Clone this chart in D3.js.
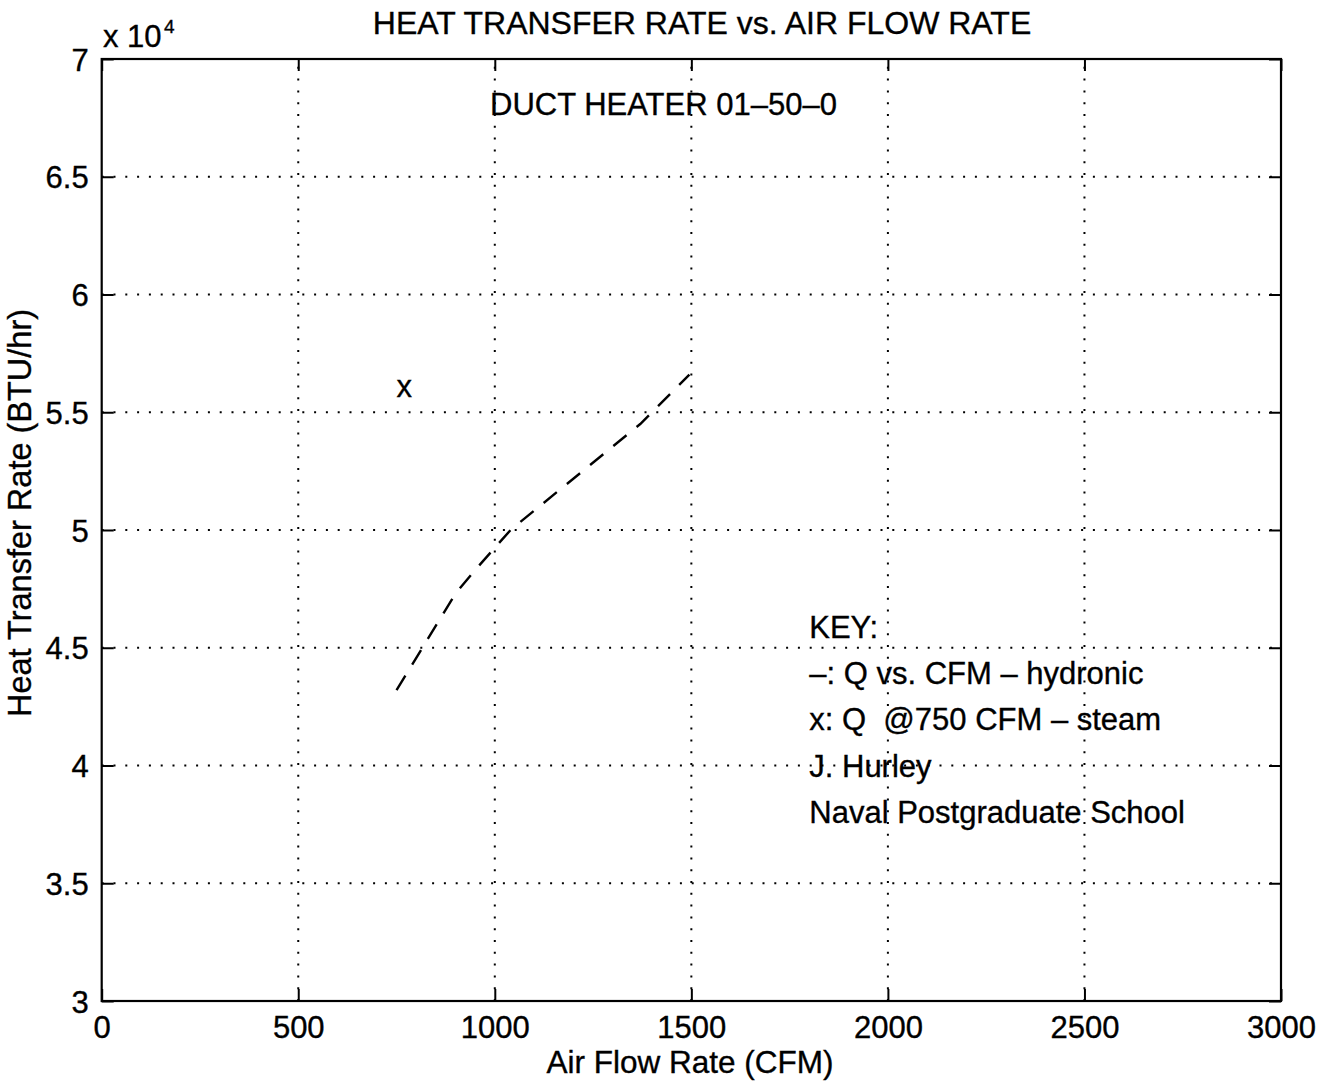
<!DOCTYPE html>
<html><head><meta charset="utf-8">
<script src="https://cdn.jsdelivr.net/npm/d3@7/dist/d3.min.js"></script>
<style>
html,body{margin:0;padding:0;background:#fff;}
text{font-family:"Liberation Sans",Arial,Helvetica,sans-serif;fill:#000;stroke:#000;stroke-width:0.35px;}
</style></head>
<body>
<svg id="chart" width="1328" height="1084"></svg>
<script>
// Data (Q in BTU/hr, flow in CFM)
const hydronicCFM = [750, 900, 950, 1040, 1370, 1495];
const hydronicQ   = [43200, 47300, 48300, 50000, 54500, 56600];
const steamCFM = [750];
const steamQ   = [56000];
const xTicks = [0, 500, 1000, 1500, 2000, 2500, 3000];
const yTicks = [30000, 35000, 40000, 45000, 50000, 55000, 60000, 65000, 70000];
const yTickLabels = ["3", "3.5", "4", "4.5", "5", "5.5", "6", "6.5", "7"];
const keyLines = ["KEY:", "\u2013: Q vs. CFM \u2013 hydronic", "x: Q  @750 CFM \u2013 steam", "J. Hurley", "Naval Postgraduate School"];
const titleText = "HEAT TRANSFER RATE vs. AIR FLOW RATE";
const subtitleText = "DUCT HEATER 01\u201350\u20130";

const svg = d3.select("#chart");
const L = 101.7, R = 1281, T = 59, B = 1001;
const x = d3.scaleLinear().domain([0, 3000]).range([L, R]);
const y = d3.scaleLinear().domain([30000, 70000]).range([B, T]);
const FS = 31;

// Grid
const grid = svg.append("g").attr("stroke", "#000").attr("stroke-width", 2)
  .attr("stroke-dasharray", "2,9.8").attr("stroke-linecap", "butt");
grid.selectAll(".gx").data(xTicks.slice(1, -1)).join("line")
  .attr("x1", d => x(d)).attr("x2", d => x(d)).attr("y1", B).attr("y2", T);
grid.selectAll(".gy").data(yTicks.slice(1, -1)).join("line")
  .attr("x1", L).attr("x2", R).attr("y1", d => y(d)).attr("y2", d => y(d));

// Axes with inward ticks
const tl = 12;
const axB = d3.axisBottom(x).tickValues(xTicks).tickSize(-tl).tickFormat(d3.format("d")).tickPadding(16);
const axT = d3.axisTop(x).tickValues(xTicks).tickSize(-tl).tickFormat("");
const axL = d3.axisLeft(y).tickValues(yTicks).tickSize(-tl).tickFormat((d, i) => yTickLabels[i]).tickPadding(13);
const axR = d3.axisRight(y).tickValues(yTicks).tickSize(-tl).tickFormat("");
function style(g) {
  g.select(".domain").remove();
  g.selectAll("line").attr("stroke", "#000").attr("stroke-width", 2);
  g.selectAll("text").attr("font-size", FS).attr("font-family", "Liberation Sans, Arial, sans-serif").attr("fill", "#000");
}
svg.append("g").attr("transform", `translate(0,${B})`).call(axB).call(style)
  .selectAll("text").attr("dy", "0.68em");
svg.append("g").attr("transform", `translate(0,${T})`).call(axT).call(style);
svg.append("g").attr("transform", `translate(${L},0)`).call(axL).call(style)
  .selectAll("text").attr("dy", "0.36em");
svg.append("g").attr("transform", `translate(${R},0)`).call(axR).call(style);

// Box
svg.append("rect").attr("x", L).attr("y", T).attr("width", R - L).attr("height", B - T)
  .attr("fill", "none").attr("stroke", "#000").attr("stroke-width", 2.2);

// Hydronic dashed line
const pts = hydronicCFM.map((c, i) => [c, hydronicQ[i]]);
svg.append("path").datum(pts)
  .attr("d", d3.line().x(d => x(d[0])).y(d => y(d[1])))
  .attr("fill", "none").attr("stroke", "#000").attr("stroke-width", 2.4)
  .attr("stroke-dasharray", "17,13");

// Steam point (text 'x')
svg.selectAll(".steam").data(steamCFM.map((c, i) => [c, steamQ[i]])).join("text")
  .attr("x", d => x(d[0])).attr("y", d => y(d[1]) + 8)
  .attr("font-size", FS).text("x");

// Title, subtitle
svg.append("text").attr("x", 702).attr("y", 34).attr("text-anchor", "middle")
  .attr("font-size", 32).text(titleText);
svg.append("text").attr("x", 490).attr("y", 115).attr("text-anchor", "start")
  .attr("font-size", 31).text(subtitleText);

// Exponent
const ex = svg.append("text").attr("x", 103).attr("y", 47).attr("font-size", 31);
ex.append("tspan").text("x 10");
ex.append("tspan").attr("x", 164).attr("y", 33).attr("font-size", 19).text("4");

// Axis labels
svg.append("text").attr("x", 690).attr("y", 1073).attr("text-anchor", "middle")
  .attr("font-size", 31.5).text("Air Flow Rate (CFM)");
svg.append("text").attr("transform", "translate(31,513) rotate(-90)").attr("text-anchor", "middle")
  .attr("font-size", 32.5).text("Heat Transfer Rate (BTU/hr)");

// Key
svg.selectAll(".key").data(keyLines).join("text")
  .attr("x", x(1800)).attr("y", (d, i) => 638 + i * 46.2)
  .attr("font-size", FS).attr("xml:space", "preserve").style("white-space", "pre").text(d => d);
</script>
</body></html>
